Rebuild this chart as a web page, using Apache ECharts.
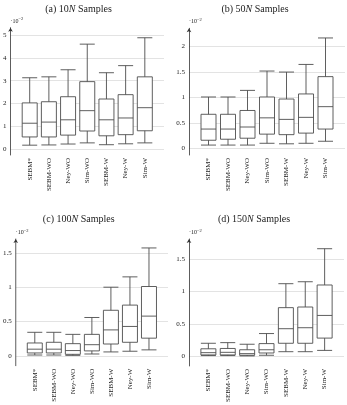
<!DOCTYPE html>
<html>
<head>
<meta charset="utf-8">
<script src="https://cdn.jsdelivr.net/npm/echarts@6/dist/echarts.min.js"></script>
<style>
  html, body { margin: 0; padding: 0; background: #fff; }
  #chart { width: 347px; height: 405px; }
</style>
</head>
<body>
<div id="chart"></div>
<script>
// methods on the x axis
const methods = ['SEBM*', 'SEBM-WO', 'Ney-WO', 'Sim-WO', 'SEBM-W', 'Ney-W', 'Sim-W'];

// five-number summaries [low, q1, median, q3, high], unit 1e-2
const box10N = [
  [0.18, 0.54, 1.14, 2.03, 3.13],
  [0.19, 0.54, 1.19, 2.08, 3.17],
  [0.23, 0.62, 1.29, 2.30, 3.48],
  [0.28, 0.80, 1.69, 2.96, 4.60],
  [0.20, 0.59, 1.29, 2.20, 3.35],
  [0.24, 0.64, 1.37, 2.39, 3.66],
  [0.28, 0.81, 1.82, 3.17, 4.88]
];
const box50N = [
  [0.065, 0.16, 0.38, 0.67, 1.01],
  [0.065, 0.18, 0.38, 0.67, 1.01],
  [0.065, 0.20, 0.42, 0.745, 1.14],
  [0.10, 0.28, 0.60, 1.01, 1.52],
  [0.09, 0.27, 0.57, 0.97, 1.50],
  [0.10, 0.30, 0.61, 1.07, 1.65],
  [0.14, 0.38, 0.82, 1.41, 2.17]
];
const box100N = [
  [0.015, 0.045, 0.10, 0.19, 0.345],
  [0.015, 0.045, 0.10, 0.20, 0.345],
  [0.01, 0.025, 0.08, 0.18, 0.315],
  [0.03, 0.075, 0.165, 0.315, 0.56],
  [0.06, 0.175, 0.38, 0.665, 1.0],
  [0.07, 0.20, 0.43, 0.74, 1.15],
  [0.09, 0.26, 0.58, 1.01, 1.57]
];
const box150N = [
  [0.01, 0.02, 0.055, 0.115, 0.20],
  [0.01, 0.02, 0.06, 0.12, 0.21],
  [0.005, 0.015, 0.04, 0.10, 0.185],
  [0.015, 0.05, 0.10, 0.195, 0.35],
  [0.07, 0.20, 0.425, 0.75, 1.12],
  [0.07, 0.20, 0.44, 0.76, 1.15],
  [0.09, 0.28, 0.63, 1.10, 1.66]
];

// y ticks per panel
const ticks10N = [0, 1, 2, 3, 4, 5];
const ticks50N = [0, 0.5, 1, 1.5, 2];
const ticks100N = [0, 0.5, 1, 1.5];
const ticks150N = [0, 0.5, 1, 1.5];

const FONT = '"Liberation Serif", "DejaVu Serif", serif';
const lineCol = '#4d4d4d';

const panels = [
  { name: '(a) 10', data: box10N, ticks: ticks10N, ymin: -0.25, ymax: 5.32, grid: { left: 8, top: 27.7, width: 156, height: 127.3 }, tx: 78.5, ty: 9 },
  { name: '(b) 50', data: box50N, ticks: ticks50N, ymin: -0.13, ymax: 2.36, grid: { left: 189, top: 28.3, width: 156, height: 126.7 }, tx: 255, ty: 9 },
  { name: '(c) 100', data: box100N, ticks: ticks100N, ymin: -0.14, ymax: 1.70, grid: { left: 14, top: 239, width: 154, height: 126.7 }, tx: 78.7, ty: 219 },
  { name: '(d) 150', data: box150N, ticks: ticks150N, ymin: -0.15, ymax: 1.81, grid: { left: 189, top: 239, width: 155, height: 127 }, tx: 254, ty: 219 }
];

const chart = echarts.init(document.getElementById('chart'));

const grids = [], xAxes = [], yAxes = [], series = [], graphics = [];
panels.forEach(function (p, i) {
  grids.push(Object.assign({ containLabel: false }, p.grid));
  xAxes.push({
    type: 'value', gridIndex: i, min: 0, max: 8, interval: 1,
    axisLine: { show: false }, axisTick: { show: false }, splitLine: { show: false },
    axisLabel: {
      rotate: 90, margin: 3, fontFamily: FONT, fontSize: 7, color: '#222',
      formatter: function (v) { return methods[v - 1] || ''; }
    }
  });
  yAxes.push({
    type: 'value', gridIndex: i, min: p.ymin, max: p.ymax,
    name: '{a|·10}{b|−2}', nameLocation: 'end', nameGap: 2,
    nameTextStyle: {
      align: 'left', padding: [0, 0, 0, 0],
      rich: {
        a: { fontFamily: FONT, fontSize: 6, color: '#222' },
        b: { fontFamily: FONT, fontSize: 4.5, color: '#222', padding: [0, 0, 4, 0] }
      }
    },
    axisLine: { show: true, lineStyle: { color: '#333', width: 0.8 }, symbol: ['none', 'arrow'], symbolSize: [3.5, 4] },
    axisTick: { show: false, customValues: p.ticks },
    axisLabel: { customValues: p.ticks, margin: 4, fontFamily: FONT, fontSize: 7, color: '#222' },
    splitLine: { show: true, lineStyle: { color: '#dcdcdc', width: 0.8 } }
  });
  series.push({
    type: 'boxplot', xAxisIndex: i, yAxisIndex: i,
    boxWidth: [15, 15],
    itemStyle: { color: '#fff', borderColor: lineCol, borderWidth: 0.9 },
    emphasis: { disabled: true },
    data: p.data.map(function (d, k) { return [k + 1].concat(d); })
  });
  graphics.push({
    type: 'text', x: p.tx, y: p.ty,
    style: {
      text: p.name + '{i|N} Samples',
      font: '10px ' + FONT, fill: '#222', textAlign: 'center', textVerticalAlign: 'middle',
      rich: { i: { fontFamily: FONT, fontSize: 10, fontStyle: 'italic', fill: '#222' } }
    }
  });
});

chart.setOption({
  animation: false,
  grid: grids,
  xAxis: xAxes,
  yAxis: yAxes,
  series: series,
  graphic: graphics
});
</script>
</body>
</html>
